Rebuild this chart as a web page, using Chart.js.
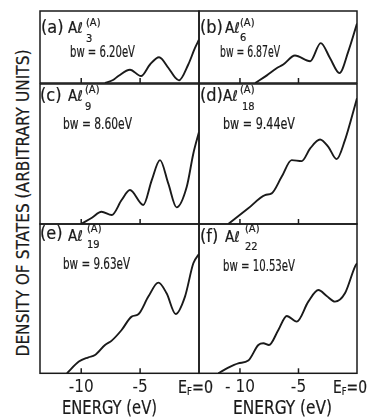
<!DOCTYPE html>
<html>
<head>
<meta charset="utf-8">
<script src="https://cdn.jsdelivr.net/npm/chart.js@4.4.1/dist/chart.umd.min.js"></script>
<style>
  body { margin:0; width:367px; height:417px; overflow:hidden; position:relative; background:#fff;
         font-family:"Liberation Sans Narrow","DejaVu Sans Condensed",Roboto,sans-serif; color:#1a1a1a; }
  canvas { position:absolute; }
  .t { position:absolute; white-space:nowrap; line-height:1; transform-origin:0 50%;
       -webkit-text-stroke:0.2px #1a1a1a; }
</style>
</head>
<body>
<script>
/* ---------------- Data ---------------- */

const xMin = -13.5;
const tickMarks = [-10, -5];
const tickLabels = [-10, -5, 0];

const panelTags = ["(a)", "(b)", "(c)", "(d)", "(e)", "(f)"];
const clusterSizes = ["3", "6", "9", "18", "19", "22"];
const bandwidths = ["6.20", "6.87", "8.60", "9.44", "9.63", "10.53"];

const energyA = [-7.98, -7.3, -6.85, -5.86, -4.92, -4.16, -3.39, -2.61, -2.02, -1.70, -0.91, -0.34, 0];
const dosA    = [0, 3, 7, 13.4, 7, 18.7, 26, 15.4, 5.4, 2.7, 18.7, 35.4, 43.7];

const energyB = [-8.7, -7.7, -6.9, -6.3, -5.3, -4.0, -3.1, -2.3, -1.5, -0.74, 0];
const dosB    = [0, 7.7, 14.7, 18.7, 27.7, 22, 40.3, 25, 10, 32, 60];

const energyC = [-10.0, -9.09, -8.28, -7.41, -6.57, -5.86, -4.73, -4.01, -3.31, -2.61, -1.90, -1.04, -0.48, 0];
const dosC    = [0, 6.3, 12.3, 9, 24, 34, 19, 44, 64, 40.7, 16.7, 37.3, 70.7, 92.3];

const energyD = [-11.0, -9.29, -7.86, -7.29, -6.44, -5.58, -4.73, -4.0, -3.16, -2.45, -1.74, -1.03, -0.57, 0];
const dosD    = [0, 15.7, 29, 30.7, 47.3, 64, 63, 75.7, 84.7, 77.3, 65, 84, 102, 126];

const energyE = [-11.21, -10.2, -9.39, -8.83, -7.98, -7.41, -6.57, -5.72, -5.15, -4.30, -3.45, -2.75, -1.98, -1.19, -0.48, 0];
const dosE    = [0, 11.7, 16, 18.3, 28.3, 32.7, 43.3, 56.7, 59, 76.7, 90.7, 80, 59.3, 76.7, 110, 119.3];

const energyF = [-11.85, -11.0, -10.15, -9.29, -8.43, -8.0, -7.52, -6.72, -6.0, -5.15, -4.16, -3.3, -2.59, -1.88, -1.03, -0.17, 0];
const dosF    = [0, 5.7, 10, 12.7, 28.3, 30, 28.3, 43.3, 57.3, 51.7, 71.7, 83.3, 77.3, 71.7, 80, 106.7, 110];

const energies = [energyA, energyB, energyC, energyD, energyE, energyF];
const densities = [dosA, dosB, dosC, dosD, dosE, dosF];

/* ---------------- Layout ---------------- */

const FONT = '"Liberation Sans Narrow","DejaVu Sans Condensed",Roboto,sans-serif';
const INK = "#1a1a1a";
const cols = [{ left: 40, right: 199 }, { left: 199, right: 357 }];
const rows = [{ top: 11, bottom: 83.7 }, { top: 83.7, bottom: 224 }, { top: 224, bottom: 373.3 }];
const pageH = 417;
const pad = 2;

// label offsets from each panel's top-left corner: [x, baseline]
const labelPos = [
  { tag: [1, 22],   al: [28, 23],   sup: [46, 15],  sub: [46, 31],   bw: [30, 47],   bwW: 65 },
  { tag: [1, 22],   al: [26, 23],   sup: [41, 15],  sub: [41, 30],   bw: [21, 47],   bwW: 60 },
  { tag: [0, 17.3], al: [28, 18.3], sup: [45, 9.3], sub: [45, 26.3], bw: [23, 46.3], bwW: 69 },
  { tag: [1, 17.3], al: [24, 18.3], sup: [41, 9.3], sub: [43, 26.3], bw: [24, 46.3], bwW: 72 },
  { tag: [0, 15],   al: [28, 18],   sup: [47, 8],   sub: [47, 24],   bw: [23, 46],   bwW: 67 },
  { tag: [1, 18],   al: [26, 19],   sup: [46, 8],   sub: [46, 26],   bw: [24, 48],   bwW: 72 }
];

Chart.defaults.font.family = FONT;
Chart.defaults.color = INK;

// frame round every panel + small inner ticks on the energy axis
const framePlugin = {
  id: "frame",
  afterDatasetsDraw(chart) {
    const { ctx, chartArea: a } = chart;
    const x = chart.scales.x;
    ctx.save();
    ctx.strokeStyle = INK;
    ctx.lineWidth = 1.5;
    ctx.strokeRect(a.left, a.top, a.right - a.left, a.bottom - a.top);
    tickMarks.forEach(v => {
      const px = x.getPixelForValue(v);
      ctx.beginPath();
      ctx.moveTo(px, a.bottom);
      ctx.lineTo(px, a.bottom - 5);
      ctx.stroke();
    });
    ctx.restore();
  }
};

function addText(html, x, baseline, size, fitW) {
  const d = document.createElement("div");
  d.className = "t";
  d.innerHTML = html;
  d.style.fontSize = size + "px";
  d.style.left = x + "px";
  d.style.top = (baseline - 0.86 * size) + "px";
  document.body.appendChild(d);
  if (fitW) {
    const w = d.getBoundingClientRect().width;
    d.style.transform = "scaleX(" + (fitW / w) + ")";
  }
  return d;
}

function makePanel(i) {
  const col = cols[i % 2];
  const row = rows[Math.floor(i / 2)];
  const bottomRow = row === rows[2];
  const w = col.right - col.left + 2 * pad;
  const h = bottomRow ? pageH - row.top + pad : row.bottom - row.top + 2 * pad;

  const cv = document.createElement("canvas");
  cv.width = w;
  cv.height = h;
  cv.style.left = (col.left - pad) + "px";
  cv.style.top = (row.top - pad) + "px";
  document.body.appendChild(cv);

  new Chart(cv, {
    type: "scatter",
    data: {
      datasets: [{
        data: energies[i].map((e, k) => ({ x: e, y: densities[i][k] })),
        showLine: true,
        borderColor: INK,
        borderWidth: 1.9,
        pointRadius: 0,
        cubicInterpolationMode: "monotone",
        fill: false
      }]
    },
    options: {
      responsive: false,
      animation: false,
      events: [],
      layout: { padding: bottomRow ? { top: pad, left: pad, right: pad, bottom: 0 } : pad },
      plugins: { legend: { display: false }, tooltip: { enabled: false } },
      scales: {
        x: {
          type: "linear",
          min: xMin,
          max: 0,
          display: bottomRow,
          grid: { display: false, drawTicks: false },
          border: { display: false },
          afterBuildTicks: s => { s.ticks = tickLabels.map(v => ({ value: v })); },
          afterFit: s => {
            if (!bottomRow) return;
            s.height = pageH - row.bottom;
            s.paddingLeft = 0;
            s.paddingRight = 0;
          },
          ticks: {
            padding: 4,
            autoSkip: false,
            maxRotation: 0,
            font: { size: 17 },
            color: INK,
            callback: v => v === 0 ? "" : (i % 2 === 1 && v === -10 ? "- 10" : String(v))
          }
        },
        y: { min: 0, max: row.bottom - row.top, display: false }
      }
    },
    plugins: [framePlugin]
  });

  // panel labels
  const p = labelPos[i];
  const ox = col.left, oy = row.top;
  addText(panelTags[i], ox + p.tag[0], oy + p.tag[1], 18);
  addText("A&#8467;", ox + p.al[0], oy + p.al[1], 15);
  addText("(A)", ox + p.sup[0], oy + p.sup[1], 11);
  addText(clusterSizes[i], ox + p.sub[0], oy + p.sub[1], 11);
  addText("bw = " + bandwidths[i] + "eV", ox + p.bw[0], oy + p.bw[1], 16, p.bwW);
}

for (let i = 0; i < 6; i++) makePanel(i);

// Fermi level labels and axis titles
addText("E<sub style='font-size:0.6em;vertical-align:-0.15em'>F</sub>=0", 178, 393.5, 17, 35);
addText("E<sub style='font-size:0.6em;vertical-align:-0.15em'>F</sub>=0", 333, 393.5, 17, 34);
addText("ENERGY (eV)", 62, 414, 19, 95);
addText("ENERGY (eV)", 233, 414, 19, 99);

const yTitle = addText("DENSITY OF STATES (ARBITRARY UNITS)", 0, 0, 18);
const yw = yTitle.getBoundingClientRect().width;
yTitle.style.transformOrigin = "50% 50%";
yTitle.style.left = (23 - yw / 2) + "px";
yTitle.style.top = (203 - 9) + "px";
yTitle.style.transform = "rotate(-90deg) scaleX(" + (307 / yw) + ")";
</script>
</body>
</html>
